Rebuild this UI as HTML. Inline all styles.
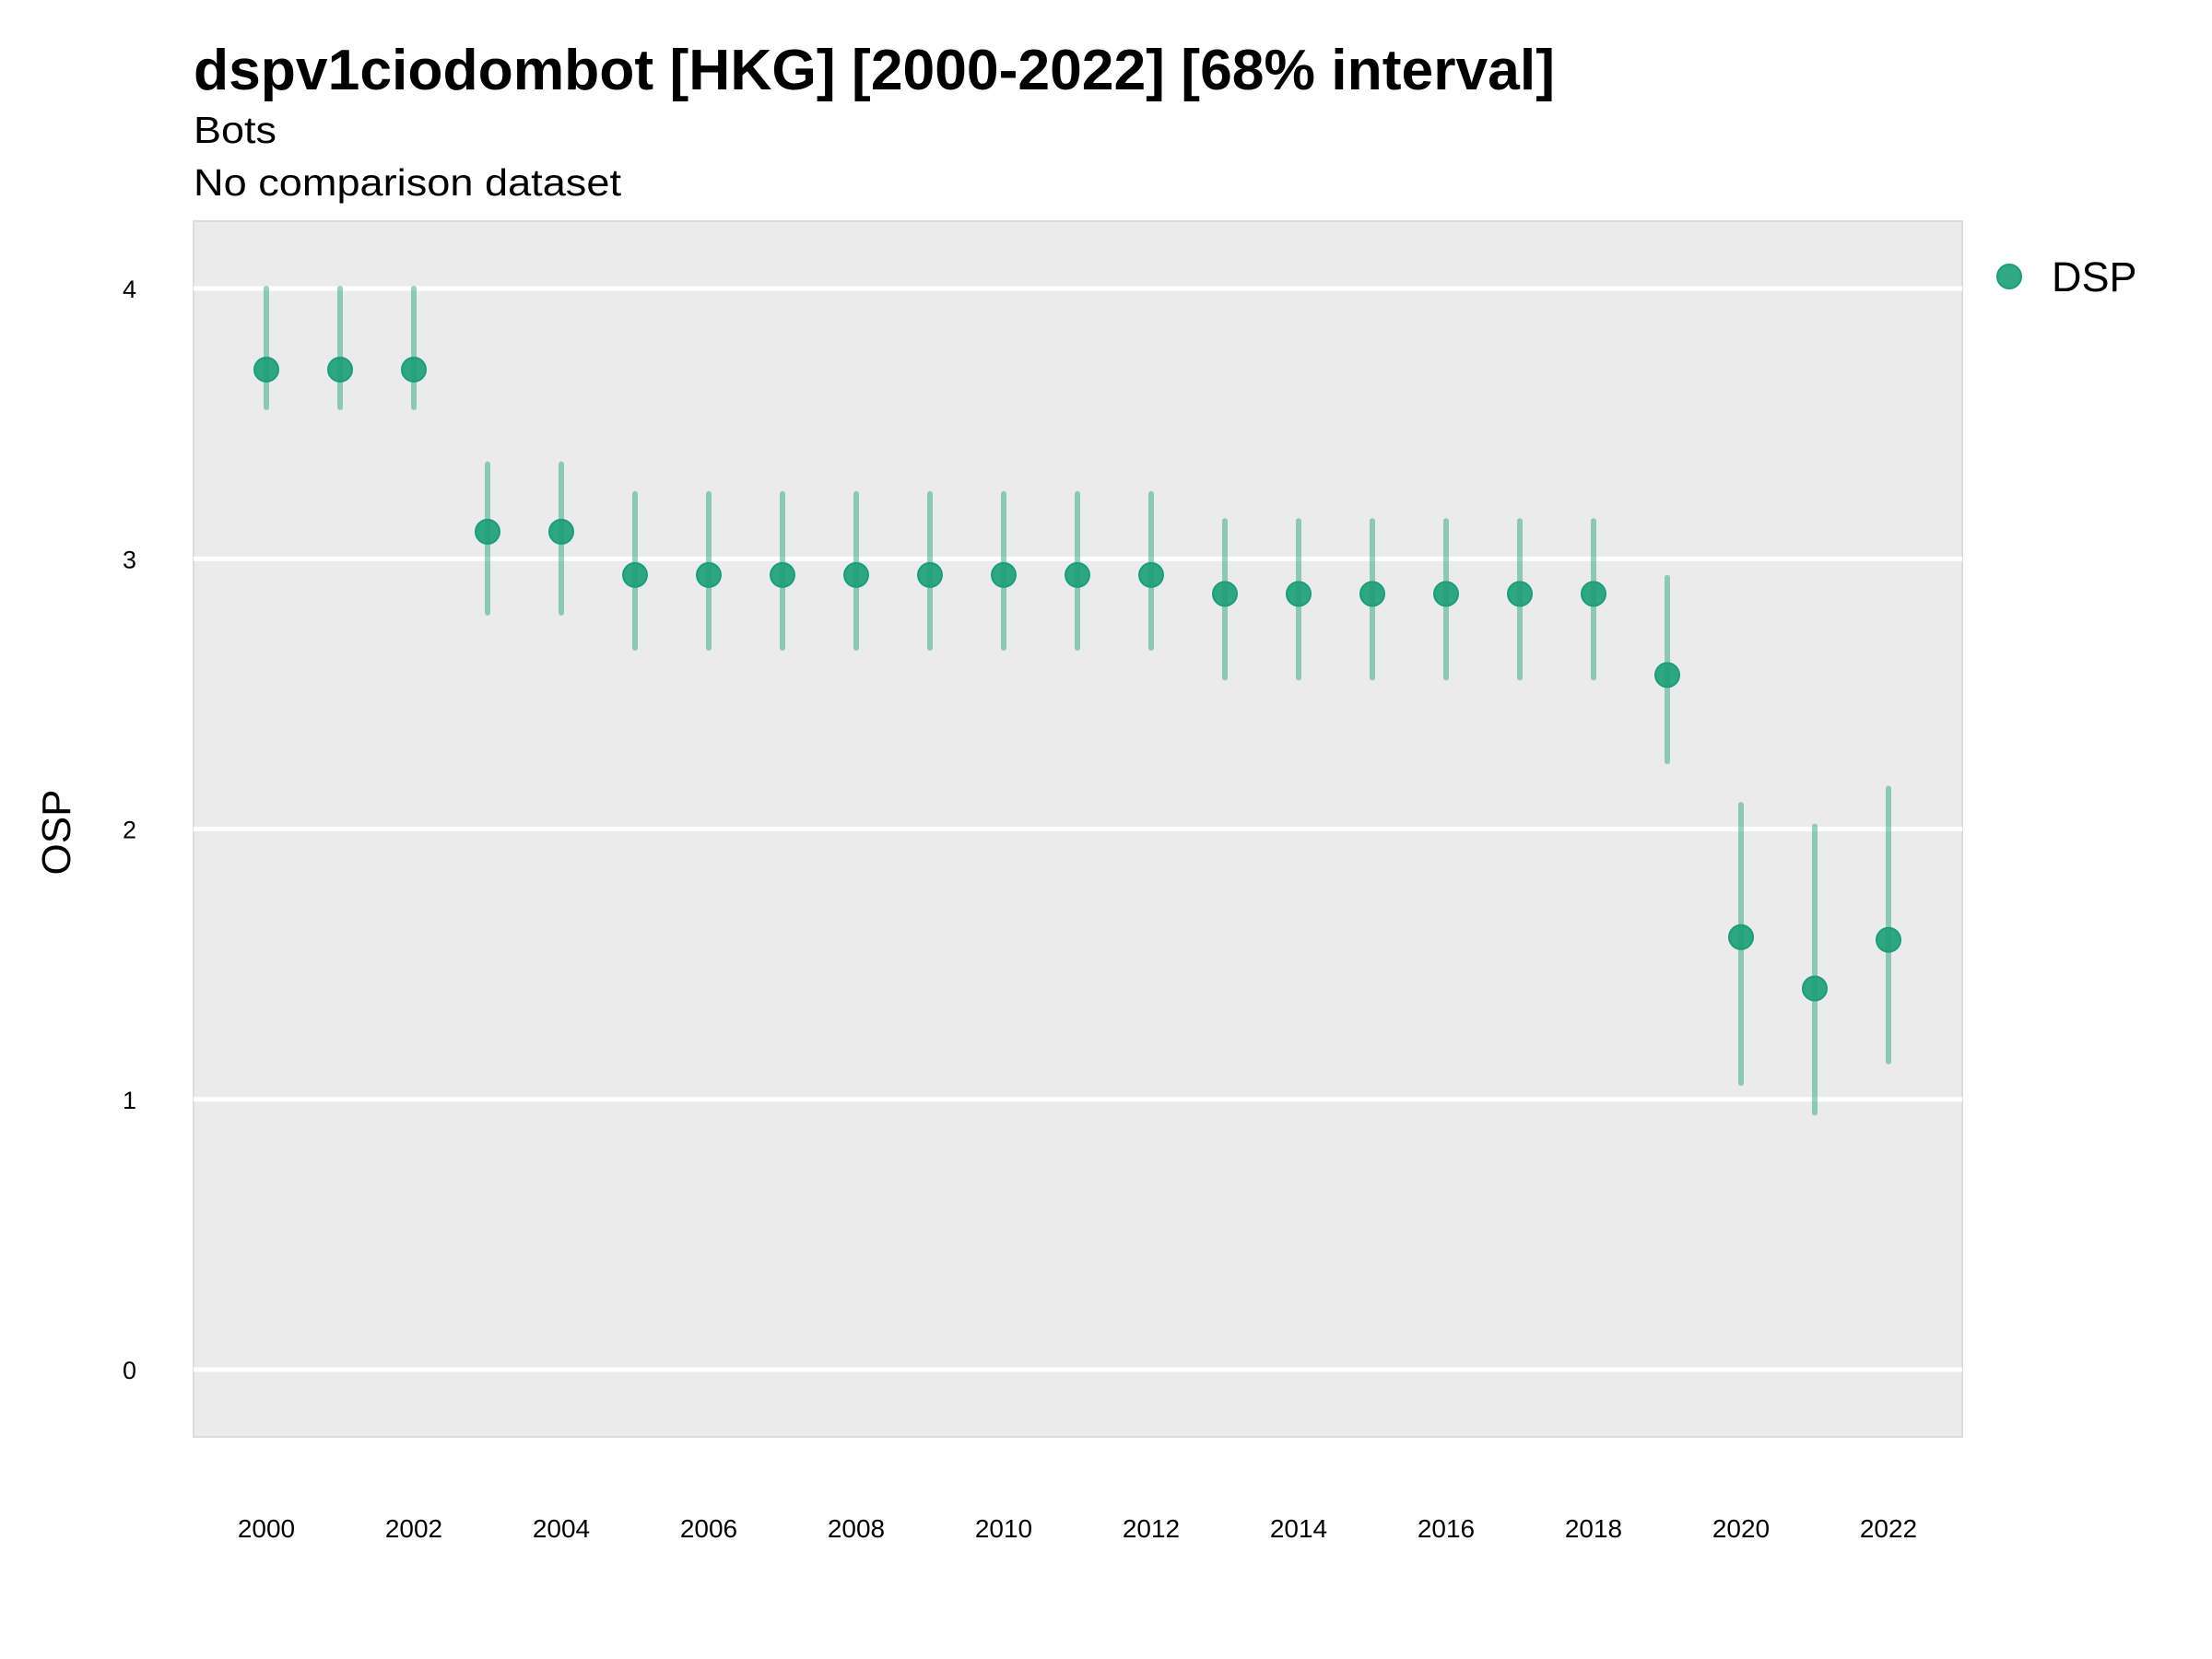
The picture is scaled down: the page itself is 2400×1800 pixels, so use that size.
<!DOCTYPE html>
<html><head><meta charset="utf-8"><style>
body{margin:0;background:#fff}
svg{display:block;font-family:"Liberation Sans",sans-serif}
</style></head><body>
<svg id="chart" width="2400" height="1800" viewBox="0 0 2400 1800">
<text x="210" y="97" font-size="62" font-weight="bold" textLength="1477" lengthAdjust="spacingAndGlyphs">dspv1ciodombot [HKG] [2000-2022] [68% interval]</text>
<text x="210" y="155" font-size="41" textLength="90" lengthAdjust="spacingAndGlyphs">Bots</text>
<text x="210" y="212" font-size="41" textLength="464" lengthAdjust="spacingAndGlyphs">No comparison dataset</text>
<rect x="210" y="240" width="1919" height="1319" fill="#ebebeb" stroke="#dcdcdc" stroke-width="2"/>
<g id="grid"></g>
<g id="yticks"></g>
<g id="xticks"></g>
<g id="bars"></g>
<g id="points"></g>
<text transform="translate(76,903) rotate(-90)" text-anchor="middle" font-size="44">OSP</text>
<g>
<circle cx="2180" cy="300" r="13" fill="#1b9e77" fill-opacity="0.9" stroke="#1b9e77" stroke-width="2"/>
<text x="2226" y="316" font-size="45">DSP</text>
</g>
</svg>
<script>
const years=[2000,2001,2002,2003,2004,2005,2006,2007,2008,2009,2010,2011,2012,2013,2014,2015,2016,2017,2018,2019,2020,2021,2022];
const values=[3.70,3.70,3.70,3.10,3.10,2.94,2.94,2.94,2.94,2.94,2.94,2.94,2.94,2.87,2.87,2.87,2.87,2.87,2.87,2.57,1.60,1.41,1.59];
const upper=[4.0,4.0,4.0,3.35,3.35,3.24,3.24,3.24,3.24,3.24,3.24,3.24,3.24,3.14,3.14,3.14,3.14,3.14,3.14,2.93,2.09,2.01,2.15];
const lower=[3.56,3.56,3.56,2.80,2.80,2.67,2.67,2.67,2.67,2.67,2.67,2.67,2.67,2.56,2.56,2.56,2.56,2.56,2.56,2.25,1.06,0.95,1.14];
const yTicks=[0,1,2,3,4];
const xTicks=[2000,2002,2004,2006,2008,2010,2012,2014,2016,2018,2020,2022];
const NS="http://www.w3.org/2000/svg";
const xs=v=>289+(v-2000)*(2049-289)/22;
const ys=v=>1486-v*(1486-313)/4;
function mk(tag,attrs,parent){const e=document.createElementNS(NS,tag);for(const k in attrs)e.setAttribute(k,attrs[k]);document.getElementById(parent).appendChild(e);return e;}
yTicks.forEach(t=>{
 const l=mk('line',{x1:210,x2:2129,y1:ys(t),y2:ys(t),stroke:'#fff','stroke-width':5},'grid');
 
 
 const tx=mk('text',{x:148,y:ys(t)+10,'text-anchor':'end','font-size':27},'yticks');
 tx.textContent=t;
 
 
});
xTicks.forEach(t=>{
 const tx=mk('text',{x:xs(t),y:1668,'text-anchor':'middle','font-size':28},'xticks');
 tx.textContent=t;
 
 
});
years.forEach((y,i)=>{
 const b=mk('line',{x1:xs(y),x2:xs(y),y1:ys(upper[i]),y2:ys(lower[i]),stroke:'#1b9e77','stroke-opacity':0.45,'stroke-width':6,'stroke-linecap':'round'},'bars');
 
 
 const c=mk('circle',{cx:xs(y),cy:ys(values[i]),r:13,fill:'#1b9e77','fill-opacity':0.9,stroke:'#1b9e77','stroke-width':2},'points');
 
 
});
</script>
</body></html>
